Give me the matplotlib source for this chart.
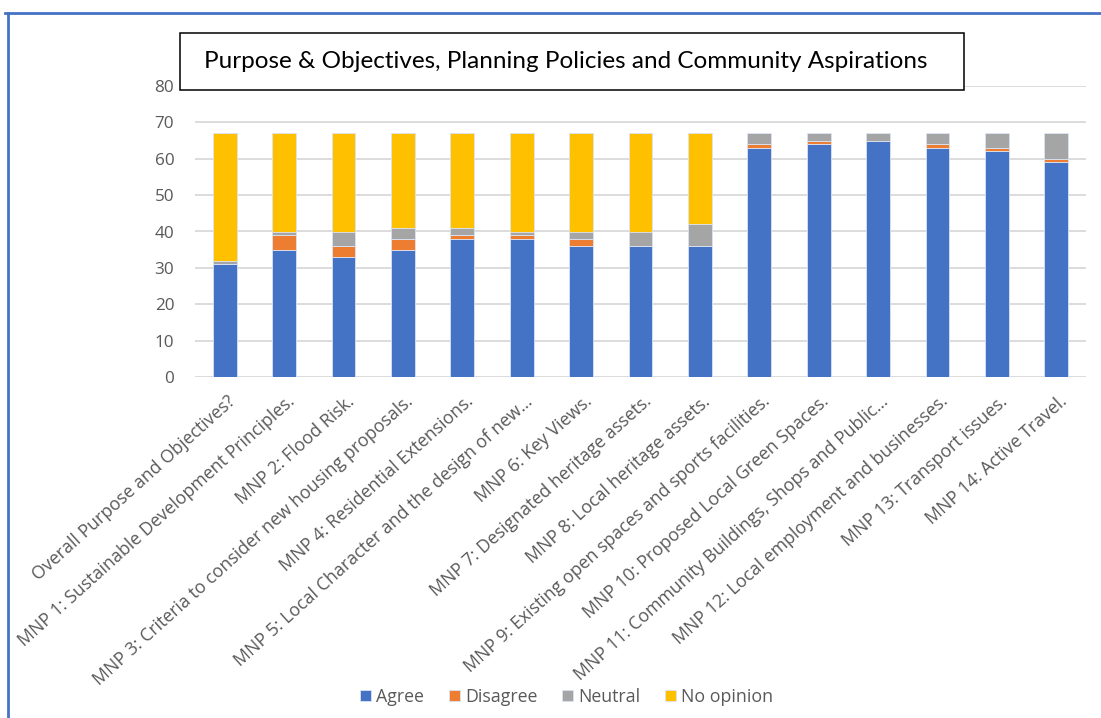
import numpy as np
import matplotlib
matplotlib.use("Agg")
import matplotlib.pyplot as plt
import matplotlib.transforms as mtransforms
from matplotlib.lines import Line2D
from matplotlib.patches import Rectangle

plt.rcParams['font.family'] = ['Open Sans', 'DejaVu Sans']

categories = ['Overall Purpose and Objectives?',
              'MNP 1: Sustainable Development Principles.',
              'MNP 2: Flood Risk.',
              'MNP 3: Criteria to consider new housing proposals.',
              'MNP 4: Residential Extensions.',
              'MNP 5: Local Character and the design of new\u2026',
              'MNP 6: Key Views.',
              'MNP 7: Designated heritage assets.',
              'MNP 8: Local heritage assets.',
              'MNP 9: Existing open spaces and sports facilities.',
              'MNP 10: Proposed Local Green Spaces.',
              'MNP 11: Community Buildings, Shops and Public\u2026',
              'MNP 12: Local employment and businesses.',
              'MNP 13: Transport issues.',
              'MNP 14: Active Travel.']

agree      = [31, 35, 33, 35, 38, 38, 36, 36, 36, 63, 64, 65, 63, 62, 59]
disagree   = [0, 4, 3, 3, 1, 1, 2, 0, 0, 1, 1, 0, 1, 1, 1]
neutral    = [1, 1, 4, 3, 2, 1, 2, 4, 6, 3, 2, 2, 3, 4, 7]
no_opinion = [35, 27, 27, 26, 26, 27, 27, 27, 25, 0, 0, 0, 0, 0, 0]

series = [('Agree', agree, '#4472C4'),
          ('Disagree', disagree, '#ED7D31'),
          ('Neutral', neutral, '#A5A5A5'),
          ('No opinion', no_opinion, '#FFC000')]

W, H = 1101, 718
fig = plt.figure(figsize=(W / 100, H / 100), dpi=100)
ax = fig.add_axes([195 / W, 1 - 377 / H, (1086 - 195) / W, (377 - 86) / H])

x = np.arange(len(categories))
bottom = np.zeros(len(categories))
for name, vals, col in series:
    vals = np.array(vals, dtype=float)
    ax.bar(x, vals, 0.4, bottom=bottom, color=col, label=name,
           edgecolor='#dbe3f3', linewidth=0.6, zorder=3)
    bottom += vals

ax.set_xlim(-0.5, len(categories) - 0.5)
ax.set_ylim(0, 80)
ax.set_yticks(range(0, 81, 10))
ax.yaxis.grid(True, color='#D9D9D9', linewidth=1.3, zorder=0)
ax.set_axisbelow(True)
for s in ax.spines.values():
    s.set_visible(False)
ax.tick_params(axis='both', length=0, colors='#595959', labelsize=12.3)
ax.tick_params(axis='x', labelsize=12.8, pad=11)
ax.tick_params(axis='y', pad=15)
ax.set_xticks(x)
ax.set_xticklabels(categories, rotation=42, ha='right', va='top',
                   rotation_mode='anchor', color='#595959')
shift = mtransforms.ScaledTranslation(1.5 / 72, 0, fig.dpi_scale_trans)
for lbl in ax.get_xticklabels():
    lbl.set_transform(lbl.get_transform() + shift)

# title inside a framed box
fig.add_artist(Rectangle((180 / W, 1 - 90 / H), (964 - 180) / W, 57 / H,
                         transform=fig.transFigure, facecolor='white',
                         edgecolor='black', linewidth=1.1, zorder=5))
fig.text(566 / W, 1 - 61 / H, 'Purpose & Objectives, Planning Policies and Community Aspirations',
         ha='center', va='center', fontsize=17.5, family=['Lato', 'DejaVu Sans'], zorder=6)

leg = fig.legend(loc='center', bbox_to_anchor=(567 / W, 1 - 697 / H), ncol=4, frameon=False,
                 fontsize=12.8, handlelength=0.6, handleheight=0.6, handletextpad=0.3,
                 columnspacing=1.4)
for t in leg.get_texts():
    t.set_color('#595959')

# chart border
fig.add_artist(Line2D([5 / W, 1], [1 - 13 / H, 1 - 13 / H], color='#4472C4', linewidth=2))
fig.add_artist(Line2D([8 / W, 8 / W], [0, 1 - 13 / H], color='#4472C4', linewidth=2))

fig.savefig('out.png', dpi=100)
